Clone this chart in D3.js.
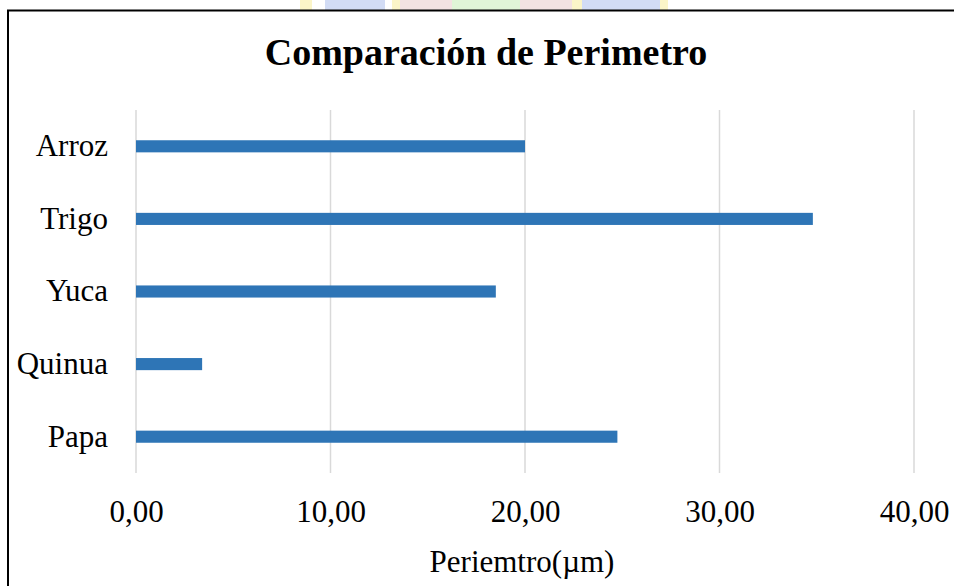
<!DOCTYPE html>
<html>
<head>
<meta charset="utf-8">
<script src="https://cdn.jsdelivr.net/npm/d3@7"></script>
<style>
  body { margin: 0; background: #fff; }
  svg text { font-family: "Liberation Serif", "Times New Roman", serif; fill: #000; }
</style>
</head>
<body>
<div class="chart"></div>
<script>
// data, top to bottom as drawn
var categories = ["Arroz", "Trigo", "Yuca", "Quinua", "Papa"];
var values = [20.0, 34.8, 18.5, 3.4, 24.75];
var x_ticks = [0, 10, 20, 30, 40];

var title_text = "Comparación de Perimetro";
var x_title = "Periemtro(µm)";

var fullWidth = 954,
    fullHeight = 586;

var plot = {left: 136, right: 914, top: 110, bottom: 473};

var svg = d3.select(".chart")
    .append("svg")
    .attr("width", fullWidth)
    .attr("height", fullHeight);

// faint watermark peeking in at the very top
var wm = svg.append("g").attr("opacity", 0.3);
var wm_parts = [
    {x: 300, w: 12, c: "#f4e04d"},
    {x: 325, w: 60, c: "#6c8fe0"},
    {x: 392, w: 8, c: "#f4e04d"},
    {x: 400, w: 52, c: "#d9a0a0"},
    {x: 452, w: 68, c: "#9be07d"},
    {x: 520, w: 52, c: "#d9a0a0"},
    {x: 572, w: 10, c: "#f4e04d"},
    {x: 582, w: 78, c: "#6c8fe0"},
    {x: 660, w: 8, c: "#f4e04d"}
];
wm.selectAll("rect")
    .data(wm_parts)
    .enter()
    .append("rect")
    .attr("x", d => d.x)
    .attr("y", 0)
    .attr("width", d => d.w)
    .attr("height", 10)
    .attr("fill", d => d.c);

// chart border (only top and left visible)
svg.append("path")
    .attr("d", "M8," + fullHeight + "V10.5H" + fullWidth)
    .attr("fill", "none")
    .attr("stroke", "#000")
    .attr("stroke-width", 2);

var x = d3.scaleLinear()
    .domain([0, 40])
    .range([plot.left, plot.right]);

// gap width 500%
var y = d3.scaleBand()
    .domain(categories)
    .range([plot.top, plot.bottom])
    .paddingInner(5 / 6)
    .paddingOuter(5 / 12);

var locale = d3.formatLocale({decimal: ",", thousands: ".", grouping: [3], currency: ["", ""]});
var fmt = locale.format(".2f");

// gridlines
svg.append("g")
    .selectAll("line")
    .data(x_ticks)
    .enter()
    .append("line")
    .attr("x1", d => x(d))
    .attr("x2", d => x(d))
    .attr("y1", plot.top)
    .attr("y2", plot.bottom)
    .attr("stroke", "#d9d9d9")
    .attr("stroke-width", 1.5);

// bars
svg.append("g")
    .selectAll("rect")
    .data(categories)
    .enter()
    .append("rect")
    .attr("x", x(0))
    .attr("y", d => y(d))
    .attr("width", (d, i) => x(values[i]) - x(0))
    .attr("height", y.bandwidth())
    .attr("fill", "#2e75b6");

// x axis labels
var xAxis = svg.append("g")
    .attr("transform", "translate(0," + plot.bottom + ")")
    .call(d3.axisBottom(x).tickValues(x_ticks).tickFormat(fmt).tickSize(0).tickPadding(0));
xAxis.select(".domain").remove();
xAxis.selectAll("text")
    .attr("font-size", 31)
    .attr("y", 49)
    .attr("dy", null);

// y axis labels
var yAxis = svg.append("g")
    .attr("transform", "translate(" + plot.left + ",0)")
    .call(d3.axisLeft(y).tickSize(0).tickPadding(28));
yAxis.select(".domain").remove();
yAxis.selectAll("text")
    .attr("font-size", 31);

// title
svg.append("text")
    .attr("x", 486)
    .attr("y", 65)
    .attr("text-anchor", "middle")
    .attr("font-size", 38)
    .attr("font-weight", "bold")
    .text(title_text);

// axis title
svg.append("text")
    .attr("x", 522)
    .attr("y", 572)
    .attr("text-anchor", "middle")
    .attr("font-size", 31)
    .text(x_title);
</script>
</body>
</html>
